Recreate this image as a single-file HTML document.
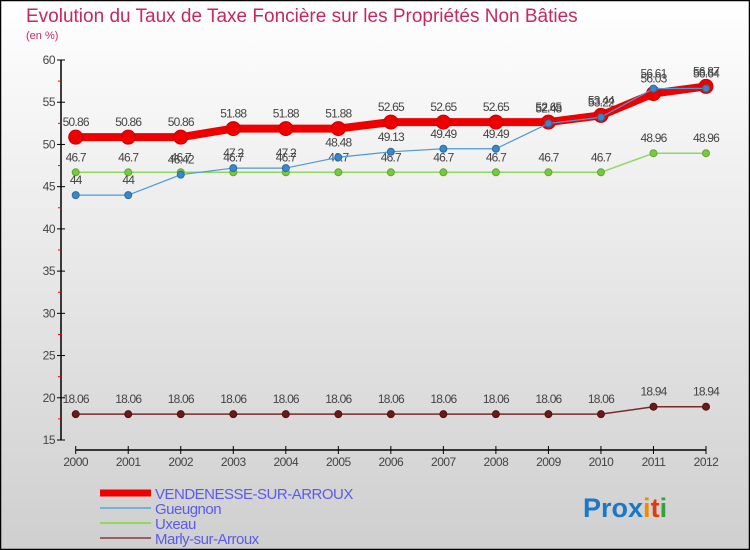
<!DOCTYPE html>
<html><head><meta charset="utf-8">
<style>
body{margin:0;padding:0;}
#wrap{width:750px;height:550px;position:relative;overflow:hidden;font-family:"Liberation Sans",sans-serif;}
svg text{font-family:"Liberation Sans",sans-serif;}
</style></head>
<body>
<div id="wrap">
<svg id="chart" width="750" height="550" xmlns="http://www.w3.org/2000/svg">
<defs>
<linearGradient id="bg" x1="0" y1="0" x2="0" y2="1">
<stop offset="0" stop-color="#ffffff"/><stop offset="1" stop-color="#cfcfcf"/>
</linearGradient>
</defs>
<rect x="0.5" y="0.5" width="749" height="549" fill="url(#bg)" stroke="#000" stroke-width="1.5"/>
<text x="26" y="22" font-size="19" fill="#c8285a">Evolution du Taux de Taxe Foncière sur les Propriétés Non Bâties</text>
<text x="26" y="39" font-size="11" fill="#c8285a">(en %)</text>
<g id="axes"></g>
<g id="series"></g>
<g id="legend"></g>
<text x="583" y="517" font-size="27" font-weight="bold"><tspan fill="#1a78c8">Pro</tspan><tspan fill="#1a78c8">x</tspan><tspan fill="#f08a00">i</tspan><tspan fill="#e03a10">t</tspan><tspan fill="#38a038">i</tspan></text>
</svg>
</div>
<script>
const years = [2000,2001,2002,2003,2004,2005,2006,2007,2008,2009,2010,2011,2012];
const yTicks = [15,20,25,30,35,40,45,50,55,60];
const vendenesse = [50.86,50.86,50.86,51.88,51.88,51.88,52.65,52.65,52.65,52.65,53.44,56.03,56.87];
const gueugnon = [44,44,46.42,47.2,47.2,48.48,49.13,49.49,49.49,52.48,53.22,56.61,56.64];
const uxeau = [46.7,46.7,46.7,46.7,46.7,46.7,46.7,46.7,46.7,46.7,46.7,48.96,48.96];
const marly = [18.06,18.06,18.06,18.06,18.06,18.06,18.06,18.06,18.06,18.06,18.06,18.94,18.94];
const seriesNames = ["VENDENESSE-SUR-ARROUX","Gueugnon","Uxeau","Marly-sur-Arroux"];

const NS="http://www.w3.org/2000/svg";
const X0=75.7, X1=706, Y60=60, Y15=440;
function xs(i){return X0+(X1-X0)*i/(years.length-1);}
function ys(v){return Y15-(v-15)*(Y15-Y60)/45;}
function mk(tag,attrs,parent){const e=document.createElementNS(NS,tag);for(const k in attrs)e.setAttribute(k,attrs[k]);parent.appendChild(e);return e;}
const axes=document.getElementById('axes');
// y axis
let yl=mk('line',{x1:61,y1:Y60,x2:61,y2:Y15,stroke:'#000','stroke-width':1.5},axes);


yTicks.forEach((t,i)=>{
  const y=ys(t);
  const tk=mk('line',{x1:57,y1:y,x2:65,y2:y,stroke:'#000','stroke-width':1},axes);
  
  
  const lb=mk('text',{x:55,y:y+4,'font-size':12,fill:'#444','text-anchor':'end','letter-spacing':'-0.5'},axes);
  lb.textContent=t;
  
  
  if(i<yTicks.length-1){
    const m=mk('line',{x1:58,y1:ys(t+2.5),x2:61,y2:ys(t+2.5),stroke:'#e00','stroke-width':1},axes);
    
    
  }
});
// x axis
let xl=mk('line',{x1:X0,y1:450,x2:X1,y2:450,stroke:'#000','stroke-width':1.5},axes);


years.forEach((yr,i)=>{
  const x=xs(i);
  const tk=mk('line',{x1:x,y1:446,x2:x,y2:454,stroke:'#000','stroke-width':1},axes);
  
  
  const lb=mk('text',{x:x,y:466,'font-size':12,fill:'#444','text-anchor':'middle','letter-spacing':'-0.5'},axes);
  lb.textContent=yr;
  
  
});
const sg=document.getElementById('series');
function drawSeries(vals,name,color,lw,r,fill,stroke){
  const g=mk('g',{},sg);
  
  
  const pts=vals.map((v,i)=>xs(i)+','+ys(v)).join(' ');
  const pl=mk('polyline',{points:pts,fill:'none',stroke:color,'stroke-width':lw,'stroke-linejoin':'round'},g);
  
  
  vals.forEach((v,i)=>{
    const c=mk('circle',{cx:xs(i),cy:ys(v),r:r,fill:fill,stroke:stroke,'stroke-width':1},g);
    
    
    const t=mk('text',{x:xs(i),y:ys(v)-11,'font-size':12,fill:'#444','text-anchor':'middle','letter-spacing':'-0.8'},g);
    t.textContent=String(v);
    
    
  });
}
drawSeries(marly,'marly','#7a2a2a',1.5,3.5,'#6a1a1a','#501010');
drawSeries(uxeau,'uxeau','#90d860',1.5,3.5,'#78c840','#60a830');
drawSeries(vendenesse,'vendenesse','#ee0000',8,7,'#ee0000','#cc0000');
drawSeries(gueugnon,'gueugnon','#4a9ad8',1.2,3.5,'#3a88c8','#2a6aa8');
const lg=document.getElementById('legend');
const lcol=['#ee0000','#7ab0d8','#90d860','#9a6060'];
const lw=[7,2,2,2];
seriesNames.forEach((n,i)=>{
  const y=493+i*15;
  const l=mk('line',{x1:100,y1:y,x2:151,y2:y,stroke:lcol[i],'stroke-width':lw[i]},lg);
  
  
  const t=mk('text',{x:155,y:y+6,'font-size':15,fill:'#5a5af0','letter-spacing':'-0.5'},lg);
  t.textContent=n;
  
  
});
</script>
</body></html>
